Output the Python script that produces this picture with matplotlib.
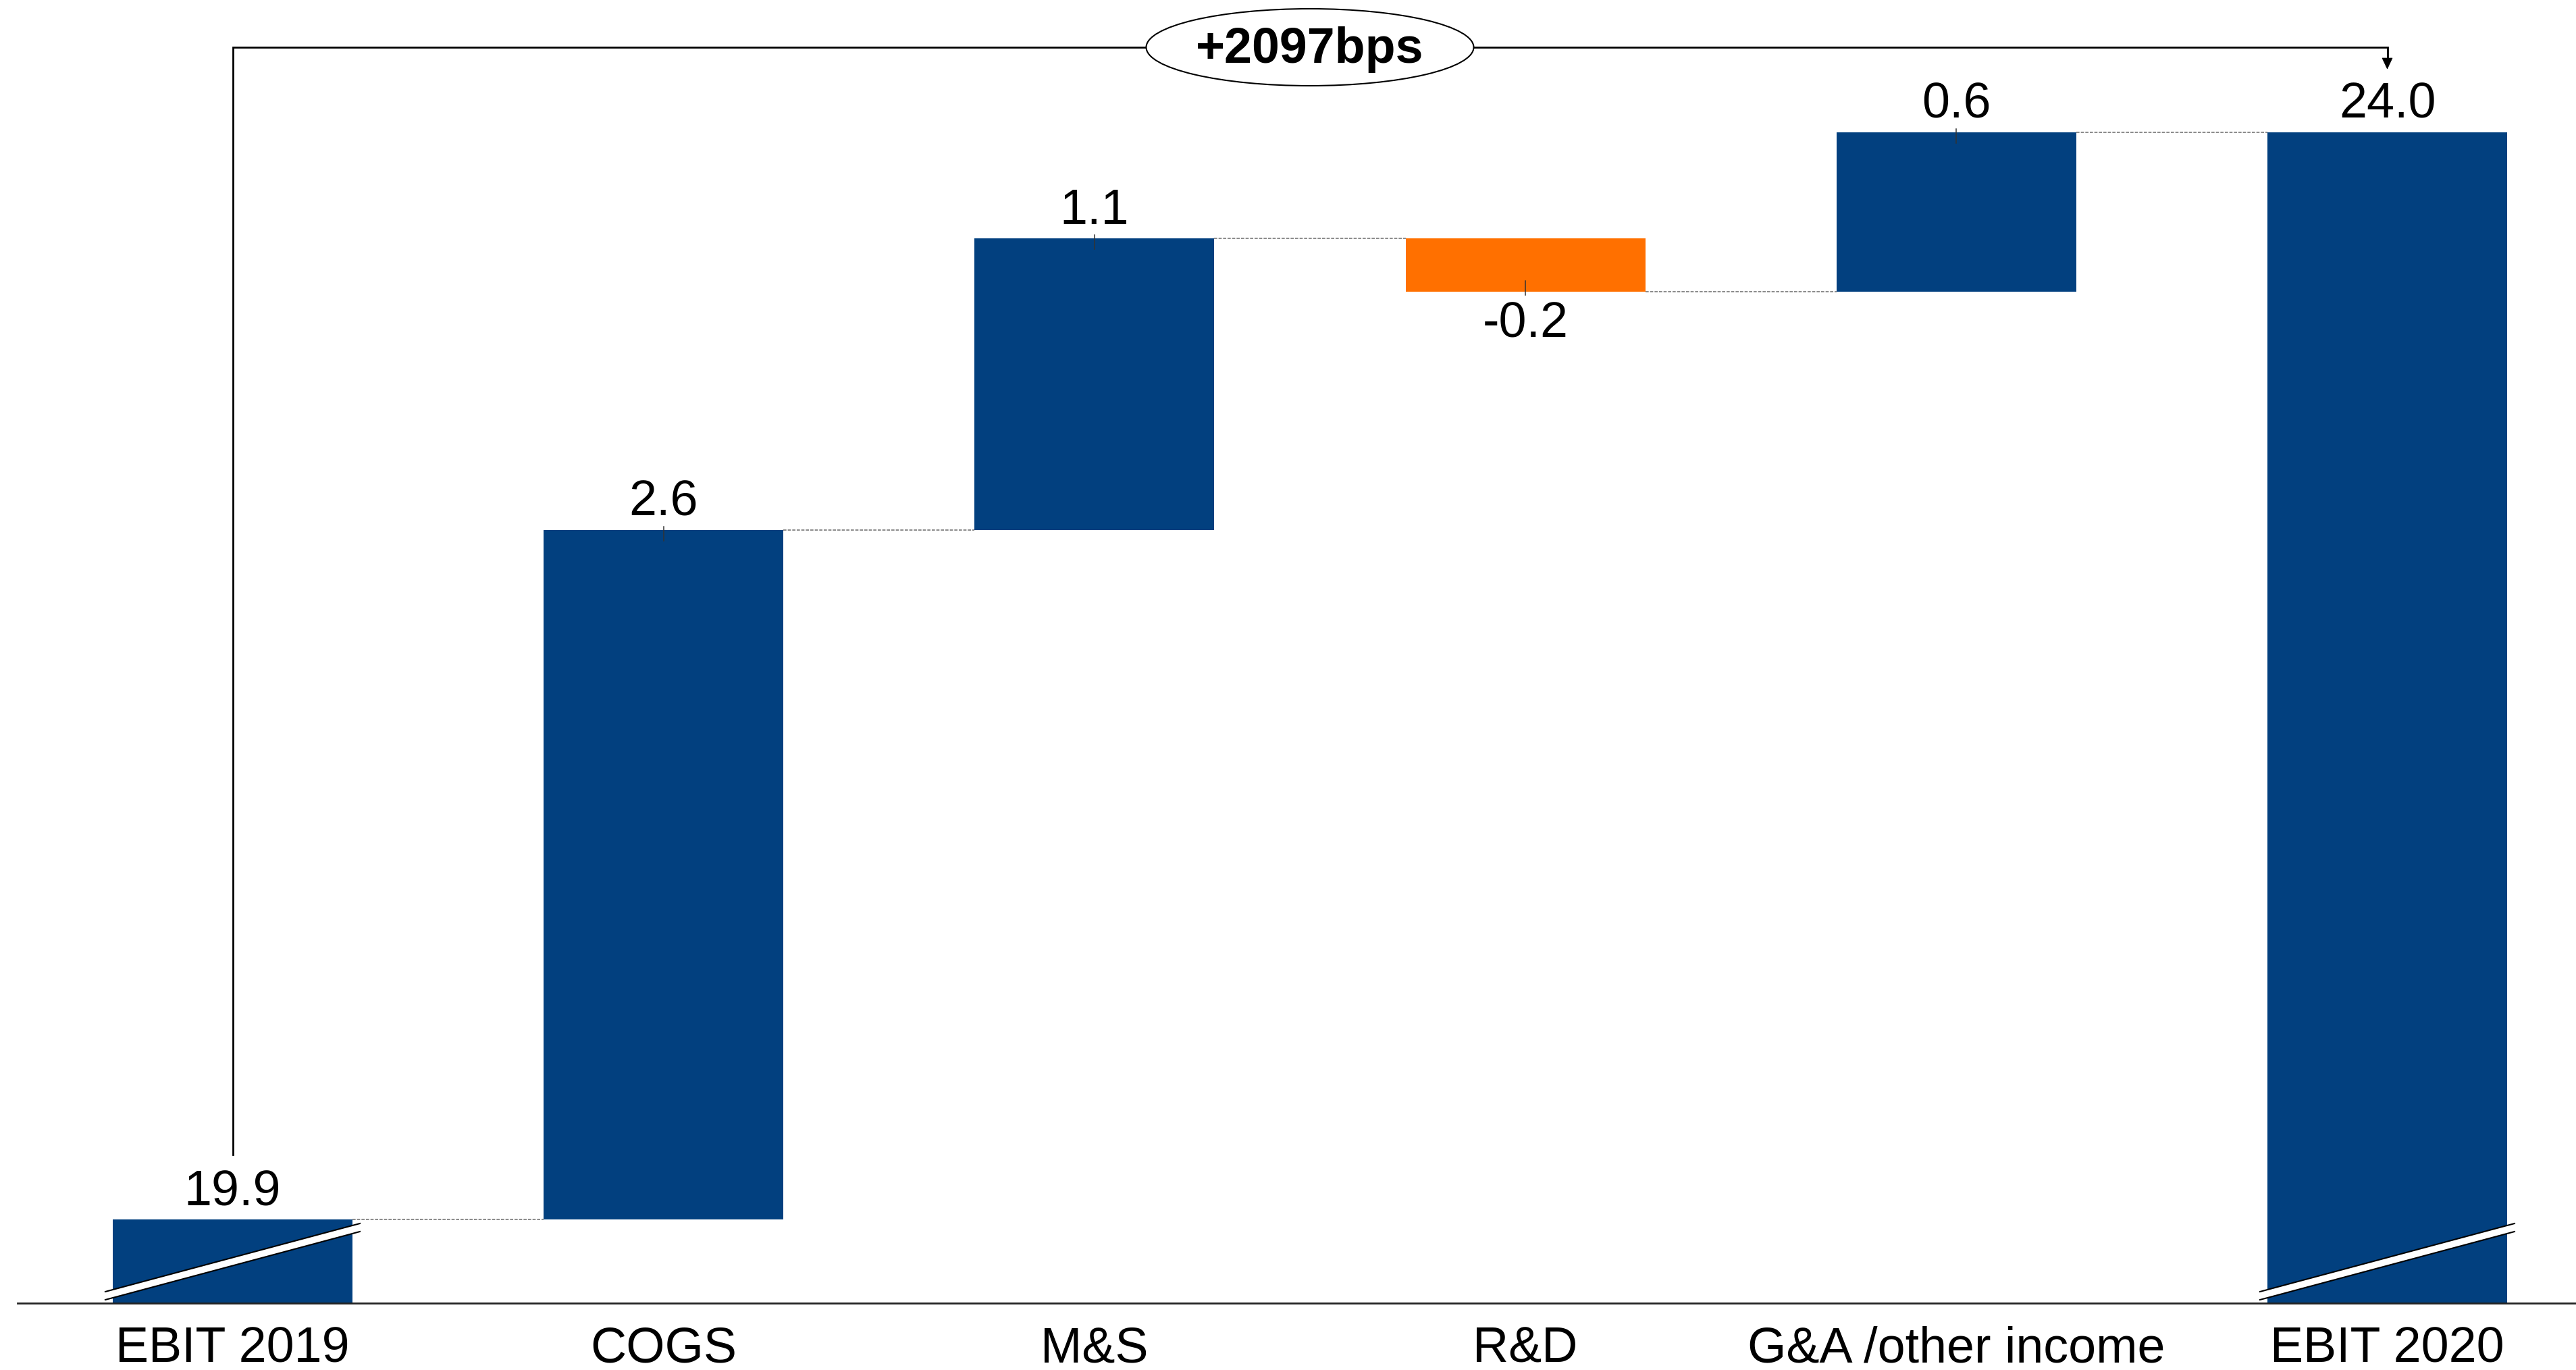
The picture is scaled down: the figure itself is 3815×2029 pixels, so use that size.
import matplotlib
matplotlib.use('Agg')
import matplotlib.pyplot as plt
from matplotlib.patches import Ellipse, Polygon
import numpy as np

plt.rcParams['font.family'] = ['Liberation Sans', 'DejaVu Sans']

# ---------------- data ----------------
categories = ["EBIT 2019", "COGS", "M&S", "R&D", "G&A /other income", "EBIT 2020"]
start_total = 19.9
deltas = [2.6, 1.1, -0.2, 0.6]
end_total = 24.0
value_labels = ["19.9", "2.6", "1.1", "-0.2", "0.6", "24.0"]
change_label = "+2097bps"

BLUE = '#02407F'
ORANGE = '#FF7000'
FS = 53

# ---------------- layout ----------------
W, H, DPI = 3815, 2029, 100
fig = plt.figure(figsize=(W / DPI, H / DPI), dpi=DPI)
ax_left_px, axis_px = 26, 1930
ax = fig.add_axes([ax_left_px / W, (H - axis_px) / H, (W - ax_left_px) / W, axis_px / H])

PXU = 392.7   # pixels per value unit
XPU = 638.2   # pixels per category step
base = start_total - 124 / PXU
ax.set_ylim(base, base + axis_px / PXU)
x0 = -(344.5 - ax_left_px) / XPU
ax.set_xlim(x0, x0 + (W - ax_left_px) / XPU)


def yv(px):
    """value coordinate for a pixel row (from top of figure)"""
    return base + (axis_px - px) / PXU


bw = 355 / XPU
n = len(categories)
xs = np.arange(n)
levels = start_total + np.cumsum([0] + deltas)

# totals
for i, tot in ((0, start_total), (n - 1, end_total)):
    ax.bar(xs[i], tot - base, bottom=base, width=bw, color=BLUE, zorder=2)

# deltas
for k, d in enumerate(deltas):
    i = k + 1
    prev, cur = levels[k], levels[k + 1]
    ax.bar(xs[i], abs(d), bottom=min(prev, cur), width=bw,
           color=BLUE if d >= 0 else ORANGE, zorder=2)

# connectors
for i in range(n - 1):
    lvl = levels[i] if i < len(levels) else end_total
    ax.plot([xs[i] + bw / 2, xs[i + 1] - bw / 2], [lvl, lvl], color='#777777',
            lw=1.2, dashes=(2.8, 1.2), zorder=1)

# value labels
off_up = 21 * 72 / DPI
off_dn = -68 * 72 / DPI
for i in range(n):
    if i == 0:
        top = start_total
        ax.annotate(value_labels[i], (xs[i], top), xytext=(0, off_up), textcoords='offset points',
                    ha='center', va='baseline', fontsize=FS)
    elif i == n - 1:
        top = end_total
        ax.annotate(value_labels[i], (xs[i], top), xytext=(0, off_up), textcoords='offset points',
                    ha='center', va='baseline', fontsize=FS)
    else:
        d = deltas[i - 1]
        if d >= 0:
            top = levels[i]
            ax.annotate(value_labels[i], (xs[i], top), xytext=(0, off_up), textcoords='offset points',
                        ha='center', va='baseline', fontsize=FS)
            ax.plot([xs[i], xs[i]], [top + 5 / PXU, top - 16 / PXU], color='#333333', lw=1.1, zorder=3)
        else:
            bot = levels[i]
            ax.annotate(value_labels[i], (xs[i], bot), xytext=(0, off_dn), textcoords='offset points',
                        ha='center', va='baseline', fontsize=FS)
            ax.plot([xs[i], xs[i]], [bot - 5 / PXU, bot + 16 / PXU], color='#333333', lw=1.1, zorder=3)

# category labels
for i, c in enumerate(categories):
    ax.annotate(c, (xs[i], 0), xycoords=('data', 'axes fraction'),
                xytext=(0, -88 * 72 / DPI), textcoords='offset points',
                ha='center', va='baseline', fontsize=FS, annotation_clip=False)

# axis-break marks on the total bars
half = 377 / 2 / XPU
for i in (0, n - 1):
    xl, xr = xs[i] - half, xs[i] + half
    y1l, y1r = yv(1913), yv(1812)
    y2l, y2r = yv(1925), yv(1824)
    ax.add_patch(Polygon([[xl, y1l], [xr, y1r], [xr, y2r], [xl, y2l]], closed=True,
                         facecolor='white', edgecolor='none', zorder=4, clip_on=False))
    ax.plot([xl, xr], [y1l, y1r], color='black', lw=1.5, zorder=5, clip_on=False)
    ax.plot([xl, xr], [y2l, y2r], color='black', lw=1.5, zorder=5, clip_on=False)

# bracket with arrow
ax.plot([xs[0], xs[0], xs[-1], xs[-1]], [yv(1710), yv(70), yv(70), yv(90)],
        color='black', lw=2, zorder=3, clip_on=False, solid_joinstyle='miter')
aw = 7.5 / XPU
ax.add_patch(Polygon([[xs[-1] - aw, yv(86)], [xs[-1] + aw, yv(86)], [xs[-1], yv(102)]],
                     closed=True, facecolor='black', edgecolor='black', lw=0.5,
                     zorder=4, clip_on=False))

# ellipse label
xc = (xs[0] + xs[-1]) / 2
ax.add_patch(Ellipse((xc, yv(70)), width=485 / XPU, height=114 / PXU, facecolor='white',
                     edgecolor='black', lw=1.5, zorder=5, clip_on=False))
ax.text(xc, yv(93), change_label, ha='center', va='baseline', fontsize=FS,
        fontweight='bold', zorder=6)

# axes styling
ax.set_xticks([])
ax.set_yticks([])
for s in ('top', 'left', 'right'):
    ax.spines[s].set_visible(False)
ax.spines['bottom'].set_linewidth(2)
ax.spines['bottom'].set_color('#222222')
ax.patch.set_alpha(0)

fig.savefig('out.png', dpi=DPI, facecolor='white')
